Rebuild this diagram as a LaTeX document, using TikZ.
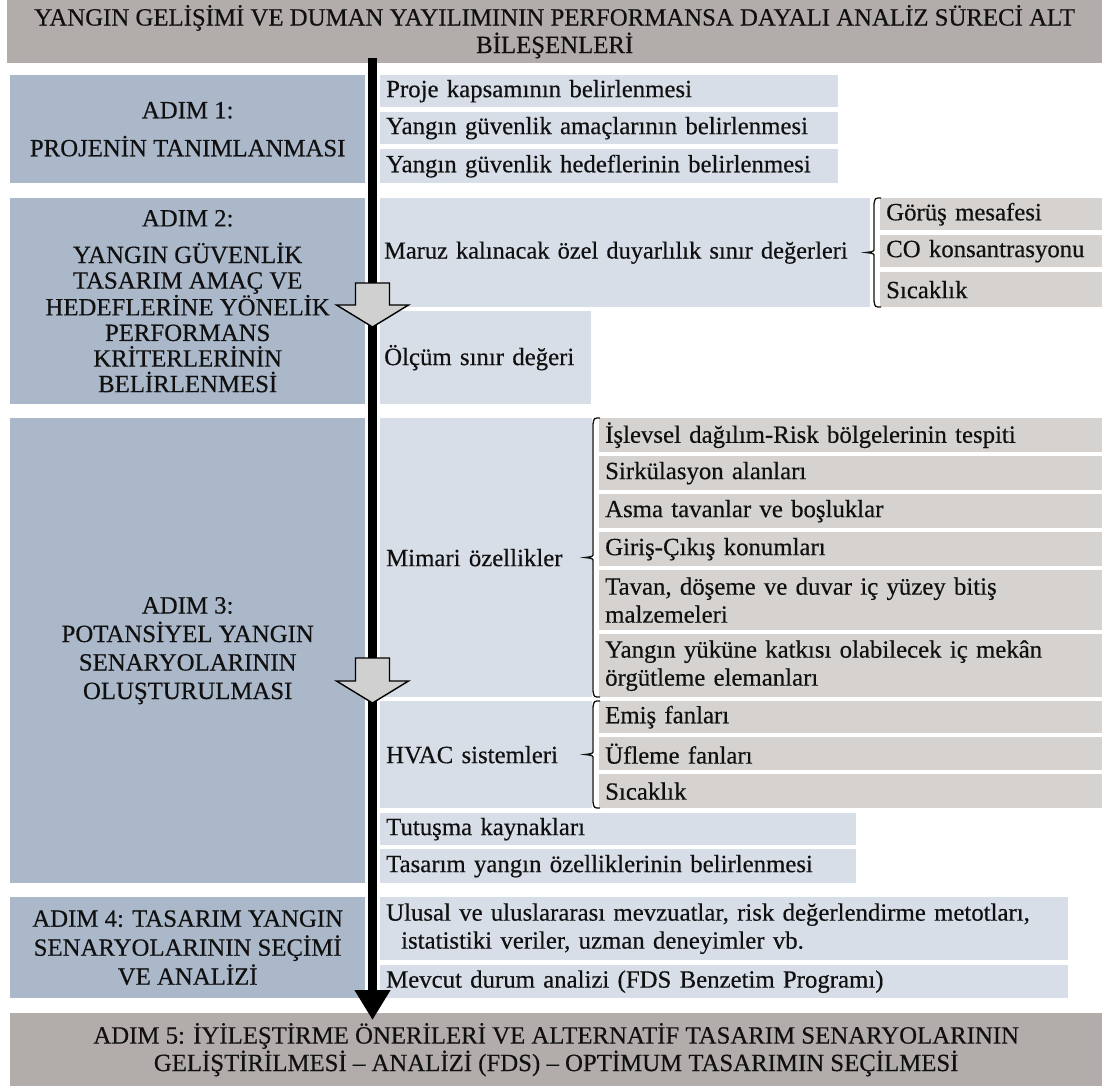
\documentclass[tikz,border=0pt]{standalone}
\usepackage{fontspec}
\setmainfont[FakeBold=0.4]{Liberation Serif}
\usetikzlibrary{arrows.meta}
\definecolor{hdrc}{HTML}{B2ADAA}
\definecolor{stepc}{HTML}{ABB8CA}
\definecolor{itemc}{HTML}{D8DEE7}
\definecolor{subc}{HTML}{D5D2D0}
\definecolor{arrc}{HTML}{D0D0D0}
\definecolor{txt}{HTML}{101010}
\tikzset{
  base/.style={anchor=north west, inner ysep=0pt, inner xsep=0pt, text=txt,
    font=\fontsize{24.8}{28}\selectfont},
  hdrbox/.style={base, fill=hdrc, align=center, font=\fontsize{24.8}{27.5}\selectfont},
  stepbox/.style={base, fill=stepc, align=center},
  lbox/.style={base, fill=itemc, inner xsep=6pt, align=left},
  gbox/.style={base, fill=subc, inner xsep=6pt, align=left},
  bracestyle/.style={draw=txt, line width=1.3pt},
  blockarr/.style={fill=arrc, draw=black, line width=1.4pt, line join=miter},
  mainline/.style={line width=9.5pt, -{Triangle[width=34pt,length=30pt]}},
}
\newcommand\mybrace[3]{%
  \draw[bracestyle] ({#1+7},#2) .. controls ({#1+1},#2) .. (#1,{#2+6})
    -- (#1,{(#2+#3)/2-4}) .. controls (#1,{(#2+#3)/2-1}) .. ({#1-8},{(#2+#3)/2})
    .. controls (#1,{(#2+#3)/2+1}) .. (#1,{(#2+#3)/2+4})
    -- (#1,{#3-6}) .. controls ({#1+1},#3) .. ({#1+7},#3);}
\newcommand\myblockarrow[4]{%
  \draw[blockarr] ({#1-17},#2) -- ({#1+17},#2) -- ({#1+17},#3) -- ({#1+36},#3)
    -- (#1,#4) -- ({#1-36},#3) -- ({#1-17},#3) -- cycle;}
\begin{document}
\begin{tikzpicture}[x=1pt,y=-1pt]
\useasboundingbox (0,0) rectangle (1102,1086);
\fill[white] (0,0) rectangle (1102,1086);

% header and footer
\node[hdrbox, minimum width=1095pt, minimum height=63pt] (hdr) at (7,0)
  {YANGIN GELİŞİMİ VE DUMAN YAYILIMININ PERFORMANSA DAYALI ANALİZ SÜRECİ ALT\\BİLEŞENLERİ};
\node[hdrbox, minimum width=1092pt, minimum height=73pt] (ftr) at (10,1013)
  {ADIM 5: İYİLEŞTİRME ÖNERİLERİ VE ALTERNATİF TASARIM SENARYOLARININ\\GELİŞTİRİLMESİ – ANALİZİ (FDS) – OPTİMUM TASARIMIN SEÇİLMESİ};

% step boxes
\node[stepbox, minimum width=355pt, minimum height=108pt] (s1) at (10,75)
  {ADIM 1:\\[10pt]PROJENİN TANIMLANMASI};
\node[stepbox, minimum width=355pt, minimum height=206pt,
  font=\fontsize{24.8}{25.6}\selectfont] (s2) at (10,198)
  {ADIM 2:\\[11pt]YANGIN GÜVENLİK\\TASARIM AMAÇ VE\\HEDEFLERİNE YÖNELİK\\PERFORMANS\\KRİTERLERİNİN\\BELİRLENMESİ};
\node[stepbox, minimum width=355pt, minimum height=465pt,
  font=\fontsize{24.8}{28.5}\selectfont] (s3) at (10,418)
  {ADIM 3:\\POTANSİYEL YANGIN\\SENARYOLARININ\\OLUŞTURULMASI};
\node[stepbox, minimum width=355pt, minimum height=101pt,
  font=\fontsize{24.8}{29}\selectfont] (s4) at (10,897)
  {ADIM 4: TASARIM YANGIN\\SENARYOLARININ SEÇİMİ\\VE ANALİZİ};

% step 1 items
\node[lbox, text width=446pt, minimum height=32pt] (p1) at (380,75) {Proje kapsamının belirlenmesi};
\node[lbox, text width=446pt, minimum height=32pt] (p2) at (380,112) {Yangın güvenlik amaçlarının belirlenmesi};
\node[lbox, text width=446pt, minimum height=34pt] (p3) at (380,149) {Yangın güvenlik hedeflerinin belirlenmesi};

% step 2 items
\node[lbox, inner xsep=4pt, text width=482pt, minimum height=109pt,
  font=\fontsize{24.4}{28}\selectfont] (maruz) at (380,198) {\mbox{Maruz kalınacak özel duyarlılık sınır değerleri}};
\node[gbox, text width=210pt, minimum height=32pt] (g1) at (880,198) {Görüş mesafesi};
\node[gbox, text width=210pt, minimum height=32pt] (g2) at (880,235) {CO konsantrasyonu};
\node[gbox, text width=210pt, minimum height=35pt] (g3) at (880,272) {Sıcaklık};
\node[lbox, inner xsep=4pt, text width=203pt, minimum height=93pt] (olcum) at (380,311) {Ölçüm sınır değeri};
\mybrace{874}{198}{307}

% step 3 items
\node[lbox, text width=200pt, minimum height=279pt] (mimari) at (380,418) {Mimari özellikler};
\node[gbox, text width=491pt, minimum height=34pt] (m1) at (599,418) {İşlevsel dağılım-Risk bölgelerinin tespiti};
\node[gbox, text width=491pt, minimum height=34pt] (m2) at (599,456) {Sirkülasyon alanları};
\node[gbox, text width=491pt, minimum height=34pt] (m3) at (599,494) {Asma tavanlar ve boşluklar};
\node[gbox, text width=491pt, minimum height=34pt] (m4) at (599,532) {Giriş-Çıkış konumları};
\node[gbox, text width=491pt, minimum height=60pt] (m5) at (599,570) {Tavan, döşeme ve duvar iç yüzey bitiş\\malzemeleri};
\node[gbox, text width=491pt, minimum height=63pt] (m6) at (599,634) {Yangın yüküne katkısı olabilecek iç mekân\\örgütleme elemanları};
\mybrace{593}{418}{697}

\node[lbox, text width=200pt, minimum height=107pt] (hvac) at (380,701) {HVAC sistemleri};
\node[gbox, text width=491pt, minimum height=32pt] (h1) at (599,701) {Emiş fanları};
\node[gbox, text width=491pt, minimum height=33pt] (h2) at (599,737) {Üfleme fanları};
\node[gbox, text width=491pt, minimum height=34pt] (h3) at (599,774) {Sıcaklık};
\mybrace{593}{701}{808}

\node[lbox, text width=464pt, minimum height=32pt] (tut) at (380,813) {Tutuşma kaynakları};
\node[lbox, text width=464pt, minimum height=34pt] (tas) at (380,849) {Tasarım yangın özelliklerinin belirlenmesi};

% step 4 items
\node[lbox, text width=676pt, minimum height=63pt] (ulu) at (380,897)
  {Ulusal ve uluslararası mevzuatlar, risk değerlendirme metotları,\\\hspace*{15pt}istatistiki veriler, uzman deneyimler vb.};
\node[lbox, text width=676pt, minimum height=33pt] (mev) at (380,965) {Mevcut durum analizi (FDS Benzetim Programı)};

% main flow line
\coordinate (lt) at (372.5,58);
\coordinate (lb) at (372.5,1020);
\draw[mainline] (lt) -- (lb);

% block arrows
\myblockarrow{372.5}{283}{305}{327}
\myblockarrow{372.5}{658}{681}{703}
\end{tikzpicture}
\end{document}
